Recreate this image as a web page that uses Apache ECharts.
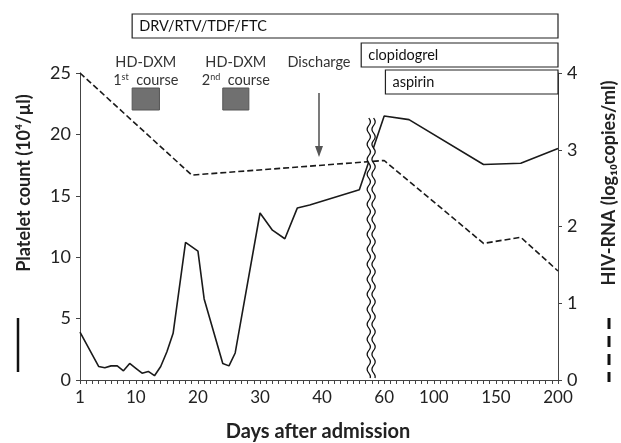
<!DOCTYPE html>
<html><head><meta charset="utf-8">
<script src="https://cdn.jsdelivr.net/npm/echarts@6/dist/echarts.min.js"></script>
<style>html,body{margin:0;padding:0;background:#fff}#c{width:621px;height:443px}</style>
</head><body><div id="c"></div>
<script>
// ---- data ----
const plateletDays = [1,4,5,6,7,8,9,10,11,12,13,14,15,16,18,20,21,24,25,26,30,32,34,36,38,46,60,80,140,170,200];
const plateletValues = [3.9,1.1,1.0,1.15,1.15,0.75,1.35,0.95,0.55,0.7,0.35,1.1,2.3,3.8,11.2,10.5,6.6,1.35,1.15,2.2,13.6,12.2,11.5,14.0,14.25,15.5,21.5,21.2,17.55,17.65,18.85];
const rnaDays = [1,19,60,140,170,200];
const rnaValues = [4.0,2.67,2.86,1.78,1.86,1.42];
const xTickLabels = [1,10,20,30,40,60,100,150,200];
const drugNames = ['DRV/RTV/TDF/FTC','clopidogrel','aspirin'];
const drugStartDays = [9.4,46.3,61];
const drugEndDay = 200;
const courseLabels = ['1','2'];
const courseSup = ['st','nd'];
const courseStartDays = [9.4,24];
const courseEndDays = [13.8,28.2];
const dischargeDay = 39.5;
const breakDay = 48;

// broken axis: days 1..48 one unit per day, after the break five days per unit
function dayToU(d){ return d <= 48 ? d - 1 : 49 + (d - 60) / 5; }
function uToDay(u){ return u <= 47 ? Math.round(u + 1) : Math.round(60 + (u - 49) * 5); }

const FONT = 'Lato';
const chart = echarts.init(document.getElementById('c'));
chart.setOption({
  animation:false,
  textStyle:{fontFamily:FONT},
  grid:{left:80,right:63,top:73,bottom:63},
  xAxis:{type:'value',min:0,max:77,interval:1,
    axisLine:{lineStyle:{color:'#444',width:1}},
    axisTick:{show:true,length:4,lineStyle:{color:'#444'}},
    splitLine:{show:false},
    axisLabel:{customValues:xTickLabels.map(dayToU),formatter:v=>String(uToDay(v)),
      color:'#222',fontSize:17,fontFamily:FONT,margin:9}},
  yAxis:[
    {type:'value',min:0,max:25,interval:5,
      axisLine:{show:true,lineStyle:{color:'#444'}},axisTick:{show:true,length:4,lineStyle:{color:'#444'}},
      splitLine:{show:false},axisLabel:{color:'#222',fontSize:18,fontFamily:FONT,margin:9}},
    {type:'value',min:0,max:4,interval:1,position:'right',
      axisLine:{show:true,lineStyle:{color:'#444'}},axisTick:{show:true,length:4,lineStyle:{color:'#444'}},
      splitLine:{show:false},axisLabel:{color:'#222',fontSize:18,fontFamily:FONT,margin:9}}
  ],
  series:[
    {type:'line',yAxisIndex:0,data:plateletDays.map((d,i)=>[dayToU(d),plateletValues[i]]),
      symbol:'none',lineStyle:{color:'#1a1a1a',width:1.6},clip:false},
    {type:'line',yAxisIndex:1,data:rnaDays.map((d,i)=>[dayToU(d),rnaValues[i]]),
      symbol:'none',lineStyle:{color:'#1a1a1a',width:1.6,type:[6,3]},clip:false}
  ]
});

function px(d){ return chart.convertToPixel({xAxisIndex:0}, dayToU(d)); }
const g = [];
const boxTops = [14,43,70];
drugNames.forEach((n,i)=>{
  const x0 = px(drugStartDays[i]), x1 = px(drugEndDay);
  g.push({type:'rect',shape:{x:x0,y:boxTops[i],width:x1-x0,height:24},
    style:{fill:'#fff',stroke:'#222',lineWidth:1.2},z:10});
  g.push({type:'text',x:x0+7,y:boxTops[i]+12,
    style:{text:n,fontFamily:FONT,fontSize:14.5,fill:'#111',textVerticalAlign:'middle',textAlign:'left'},z:11});
});
courseStartDays.forEach((s,i)=>{
  const x0 = px(s), x1 = px(courseEndDays[i]), cx=(x0+x1)/2;
  g.push({type:'rect',shape:{x:x0,y:88,width:x1-x0,height:22},style:{fill:'#707070',stroke:'#555',lineWidth:1},z:10});
  g.push({type:'text',x:cx,y:62,style:{text:'HD-DXM',fontFamily:FONT,fontSize:14.5,fill:'#333',textAlign:'center',textVerticalAlign:'middle'},z:11});
  g.push({type:'text',x:cx,y:80,style:{text:'{a|'+courseLabels[i]+'}{s|'+courseSup[i]+'}{a|  course}',
    textAlign:'center',textVerticalAlign:'middle',
    rich:{a:{fontFamily:FONT,fontSize:14.5,fill:'#333',verticalAlign:'bottom'},s:{fontFamily:FONT,fontSize:9,fill:'#333',verticalAlign:'top'}}},z:11});
});
// discharge arrow
const dx = px(dischargeDay);
g.push({type:'text',x:dx,y:62,style:{text:'Discharge',fontFamily:FONT,fontSize:14.5,fill:'#333',textAlign:'center',textVerticalAlign:'middle'},z:11});
g.push({type:'line',shape:{x1:dx,y1:93,x2:dx,y2:150},style:{stroke:'#222',lineWidth:1.2},z:11});
g.push({type:'polygon',shape:{points:[[dx-4,146],[dx+4,146],[dx,157]]},style:{fill:'#555'},z:11});
// break marks
const bx = px(breakDay) - 0.6;
const wave = y => 1.6*Math.sin((y-118)/15*2*Math.PI);
{
  const pts=[];
  for(let y=118;y<=378;y+=1){ pts.push([bx-1.6+wave(y),y]); }
  for(let y=378;y>=118;y-=1){ pts.push([bx+1.6+wave(y),y]); }
  g.push({type:'polygon',shape:{points:pts},style:{fill:'#fff'},z:11});
}
[-2.4,2.4].forEach(off=>{
  const pts=[];
  for(let y=118;y<=378;y+=1){ pts.push([bx+off+wave(y),y]); }
  g.push({type:'polyline',shape:{points:pts},style:{stroke:'#111',lineWidth:1.3,fill:null},z:12});
});
// axis titles
g.push({type:'text',x:24,y:183,rotation:Math.PI/2,style:{text:'Platelet count (10⁴/µl)',fontFamily:FONT,fontSize:18,fontWeight:'bold',fill:'#222',textAlign:'center',textVerticalAlign:'middle'}});
g.push({type:'line',shape:{x1:18,y1:318,x2:18,y2:372},style:{stroke:'#111',lineWidth:2.5}});
g.push({type:'text',x:609,y:183,rotation:Math.PI/2,style:{text:'HIV-RNA (log₁₀copies/ml)',fontFamily:FONT,fontSize:18,fontWeight:'bold',fill:'#222',textAlign:'center',textVerticalAlign:'middle'}});
g.push({type:'line',shape:{x1:609,y1:318,x2:609,y2:382},style:{stroke:'#111',lineWidth:3,lineDash:[11,7]}});
g.push({type:'text',x:318,y:432,style:{text:'Days after admission',fontFamily:FONT,fontSize:20,fontWeight:'bold',fill:'#222',textAlign:'center',textVerticalAlign:'middle'}});
chart.setOption({graphic:g});
</script></body></html>
